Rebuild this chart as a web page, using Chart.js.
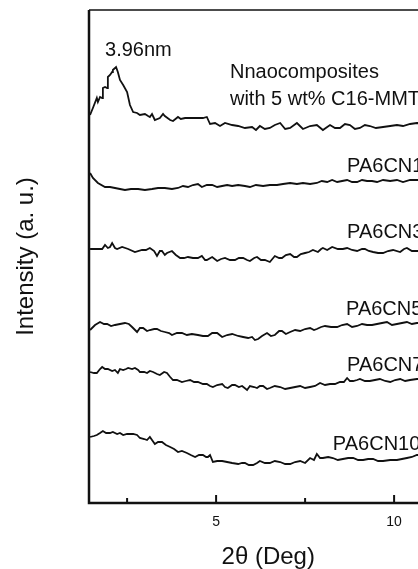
<!DOCTYPE html>
<html>
<head>
<meta charset="utf-8">
<script src="https://cdn.jsdelivr.net/npm/chart.js@4.4.1/dist/chart.umd.min.js"></script>
<style>
    html, body { margin: 0; padding: 0; background: #fff; overflow: hidden; width: 418px; height: 569px; }
    .wrap { position: relative; width: 450px; height: 569px; }
</style>
</head>
<body>
<div class="wrap"><canvas id="xrdChart"></canvas></div>
<script>
// 2θ (deg) and intensity (a.u., stacked offsets)
const xC16 = [1.46,1.54,1.65,1.68,1.74,1.80,1.82,1.88,1.94,1.96,2.02,2.08,2.10,2.19,2.24,2.30,2.39,2.50,2.58,2.67,2.78,2.86,3.00,3.09,3.14,3.20,3.28,3.42,3.51,3.56,3.71,3.79,3.93,4.01,4.13,4.41,4.63,4.74,4.83,4.97,5.11,5.25,5.45,5.62,5.81,6.01,6.12,6.23,6.37,6.51,6.65,6.80,6.94,7.08,7.27,7.44,7.64,7.83,8.00,8.20,8.34,8.48,8.62,8.76,8.90,9.04,9.18,9.32,9.49,9.69,9.89,10.08,10.25,10.45,10.64,11.5]
const yC16 = [388,395,405,401,406,405,415,416,415,426,428,431,433,436,431,423,418,411,398,391,390,388,389,387,386,389,383,385,389,387,383,382,386,384,385,385,385,386,379,380,377,380,378,377,375,376,373,377,374,375,378,380,374,375,380,374,377,378,373,378,375,375,379,378,374,375,378,377,375,376,377,378,377,379,380,379]

const xCN1 = [1.46,1.54,1.68,1.88,2.02,2.16,2.30,2.44,2.61,2.81,3.00,3.20,3.37,3.56,3.76,3.93,4.07,4.21,4.35,4.49,4.60,4.74,4.89,5.03,5.17,5.31,5.45,5.62,5.81,5.95,6.12,6.32,6.51,6.71,6.88,7.08,7.27,7.44,7.64,7.83,7.97,8.12,8.26,8.40,8.54,8.68,8.82,8.96,9.10,9.24,9.38,9.52,9.69,9.89,10.08,10.25,10.45,10.64,11.5]
const yCN1 = [330,325,320,316,316,315,314,313,314,314,313,314,315,315,314,315,317,316,318,319,316,318,318,316,317,318,317,318,317,316,318,317,318,318,319,320,319,320,319,320,322,321,323,321,322,323,321,321,323,322,322,321,323,322,323,321,323,323,323]

const xCN3 = [1.46,1.63,1.80,1.88,1.96,2.02,2.08,2.16,2.22,2.36,2.53,2.72,2.92,3.03,3.14,3.26,3.34,3.42,3.48,3.56,3.62,3.76,3.87,3.99,4.10,4.21,4.35,4.49,4.60,4.69,4.74,4.89,5.03,5.14,5.25,5.39,5.53,5.64,5.76,5.87,5.95,6.07,6.15,6.26,6.37,6.51,6.65,6.77,6.85,6.96,7.08,7.19,7.27,7.38,7.50,7.61,7.72,7.86,7.95,8.00,8.12,8.26,8.42,8.56,8.68,8.82,8.96,9.10,9.18,9.29,9.41,9.55,9.69,9.83,9.97,10.17,10.28,10.36,10.50,10.64,11.5]
const yCN3 = [254,254,254,258,255,256,260,255,254,256,254,251,253,253,255,252,247,252,252,248,250,252,248,245,245,246,245,245,247,243,243,246,242,244,245,243,243,245,245,243,242,245,246,243,243,241,247,245,245,248,249,246,246,249,250,251,253,251,254,255,253,256,254,254,255,253,252,254,254,252,251,250,250,252,253,251,254,255,252,252,252]

const xCN5 = [1.46,1.60,1.74,1.85,1.94,2.05,2.16,2.30,2.44,2.55,2.64,2.78,2.86,2.95,3.06,3.14,3.26,3.34,3.45,3.56,3.68,3.76,3.90,4.04,4.18,4.32,4.49,4.63,4.77,4.89,5.03,5.17,5.31,5.45,5.62,5.76,5.90,6.01,6.09,6.18,6.29,6.43,6.54,6.65,6.77,6.85,6.96,7.08,7.22,7.36,7.50,7.64,7.75,7.83,7.95,8.06,8.23,8.40,8.54,8.68,8.82,8.96,9.10,9.24,9.38,9.52,9.66,9.80,9.94,10.08,10.22,10.36,10.50,10.64,11.5]
const yCN5 = [173,178,181,179,179,177,178,179,180,179,176,171,175,175,172,173,174,174,172,171,170,168,170,170,168,169,168,167,167,170,170,166,168,169,167,166,165,166,163,164,167,170,167,168,172,172,169,171,173,172,174,175,173,174,176,177,176,176,178,179,176,177,179,178,178,179,180,181,178,179,180,181,179,180,180]

const xCN7 = [1.46,1.57,1.65,1.74,1.80,1.88,1.96,2.08,2.16,2.24,2.30,2.39,2.47,2.53,2.64,2.72,2.81,2.86,2.98,3.06,3.14,3.23,3.34,3.42,3.54,3.62,3.71,3.79,3.90,4.04,4.15,4.27,4.38,4.49,4.63,4.74,4.83,4.91,5.03,5.17,5.25,5.33,5.45,5.53,5.64,5.73,5.87,5.95,6.07,6.15,6.23,6.32,6.43,6.51,6.65,6.80,6.94,7.08,7.22,7.36,7.50,7.64,7.78,7.92,8.06,8.20,8.34,8.48,8.59,8.68,8.76,8.85,8.96,9.04,9.18,9.32,9.46,9.60,9.75,9.89,10.03,10.17,10.31,10.45,10.64,11.5]
const yCN7 = [131,130,130,134,136,134,134,132,133,130,134,133,134,135,134,135,133,131,131,130,132,131,129,128,131,130,126,123,123,121,122,123,121,121,119,119,117,116,118,119,116,115,118,118,116,117,113,117,116,115,117,117,114,115,117,116,114,115,116,117,115,116,117,120,118,119,119,121,121,125,122,122,123,124,122,122,123,124,122,121,123,124,122,123,124,124]

const xCN10 = [1.46,1.57,1.65,1.74,1.82,1.91,2.02,2.10,2.22,2.30,2.39,2.50,2.67,2.78,2.86,2.98,3.06,3.14,3.20,3.28,3.37,3.48,3.59,3.71,3.82,3.93,4.04,4.18,4.29,4.41,4.52,4.63,4.72,4.77,4.83,4.91,5.03,5.17,5.31,5.45,5.62,5.73,5.81,5.92,6.04,6.15,6.23,6.37,6.51,6.65,6.80,6.94,7.08,7.22,7.36,7.50,7.64,7.75,7.83,7.92,8.00,8.15,8.28,8.42,8.56,8.71,8.85,8.99,9.13,9.27,9.41,9.55,9.69,9.89,10.08,10.22,10.36,10.50,10.64,11.5]
const yCN10 = [66,67,68,70,72,70,70,71,69,70,68,69,69,68,65,64,63,66,63,59,61,61,58,56,54,51,52,50,48,46,48,48,46,46,48,41,42,42,41,40,39,40,40,38,38,40,42,40,40,42,41,39,39,41,42,40,45,43,49,45,45,46,45,43,44,45,45,43,43,44,44,42,42,43,43,44,45,46,48,48]

// x-axis ticks: labelled major ticks and unlabelled minor ones
const xTicks = [2.5, 5, 7.5, 10]
const xTickLabels = ['', '5', '', '10']

// text labels inside the plot: text, 2θ position, intensity position
const noteTexts = ['3.96nm', 'Nnaocomposites', 'with 5 wt% C16-MMT', 'PA6CN1', 'PA6CN3', 'PA6CN5', 'PA6CN7', 'PA6CN10']
const noteX = [1.88, 5.39, 5.39, 8.68, 8.68, 8.65, 8.68, 8.28]
const noteY = [447, 425, 398, 331, 265, 188, 132, 53]

const series = [
    [xC16, yC16], [xCN1, yCN1], [xCN3, yCN3],
    [xCN5, yCN5], [xCN7, yCN7], [xCN10, yCN10]
]

const FONT = "'Liberation Sans', Arial, sans-serif"

// khung, vạch chia và nhãn chữ
const framePlugin = {
    id: 'frame',
    afterDraw(chart) {
        const { ctx, chartArea: a, scales: { x, y } } = chart
        ctx.save()
        ctx.strokeStyle = '#111'
        ctx.lineWidth = 2.5
        ctx.beginPath()
        ctx.moveTo(a.left, a.top)
        ctx.lineTo(a.left, a.bottom)
        ctx.lineTo(a.right, a.bottom)
        ctx.stroke()
        ctx.lineWidth = 1.5
        ctx.beginPath()
        ctx.moveTo(a.left, a.top)
        ctx.lineTo(a.right, a.top)
        ctx.stroke()

        ctx.lineWidth = 2
        xTicks.forEach((v, i) => {
            const px = x.getPixelForValue(v)
            const len = xTickLabels[i] ? 8 : 5
            ctx.beginPath()
            ctx.moveTo(px, a.bottom)
            ctx.lineTo(px, a.bottom - len)
            ctx.stroke()
        })

        ctx.fillStyle = '#111'
        ctx.font = '20px ' + FONT
        ctx.textBaseline = 'alphabetic'
        ctx.textAlign = 'left'
        noteTexts.forEach((t, i) => {
            ctx.fillText(t, x.getPixelForValue(noteX[i]), y.getPixelForValue(noteY[i]))
        })
        ctx.restore()
    }
}

new Chart(document.getElementById('xrdChart'), {
    type: 'line',
    data: {
        datasets: series.map(([xs, ys]) => ({
            data: xs.map((v, i) => ({ x: v, y: ys[i] })),
            borderColor: '#111',
            borderWidth: 1.8,
            pointRadius: 0,
            tension: 0,
            fill: false
        }))
    },
    options: {
        responsive: true,
        maintainAspectRatio: false,
        animation: false,
        events: [],
        layout: { padding: { top: 10, right: 2.5, left: 0, bottom: 0 } },
        plugins: { legend: { display: false }, tooltip: { enabled: false } },
        scales: {
            x: {
                type: 'linear',
                min: 1.43,
                max: 11.5,
                afterBuildTicks: (scale) => { scale.ticks = xTicks.map(v => ({ value: v })) },
                afterFit: (scale) => { scale.height = 66 },
                grid: { display: false, drawTicks: false },
                border: { display: false },
                ticks: {
                    autoSkip: false,
                    maxRotation: 0,
                    padding: 11,
                    color: '#111',
                    font: { family: FONT, size: 14 },
                    callback: (v) => xTickLabels[xTicks.indexOf(v)] ?? ''
                },
                title: {
                    display: true,
                    text: '2θ (Deg)',
                    color: '#111',
                    font: { family: FONT, size: 24, lineHeight: 1 },
                    padding: { top: 0, bottom: 0 }
                }
            },
            y: {
                min: 0,
                max: 493,
                afterFit: (scale) => { scale.width = 89 },
                grid: { display: false, drawTicks: false },
                border: { display: false },
                ticks: { display: false },
                title: {
                    display: true,
                    text: 'Intensity (a. u.)',
                    color: '#111',
                    font: { family: FONT, size: 24, lineHeight: 1 },
                    padding: { top: 14, bottom: 0 }
                }
            }
        }
    },
    plugins: [framePlugin]
})
</script>
</body>
</html>
